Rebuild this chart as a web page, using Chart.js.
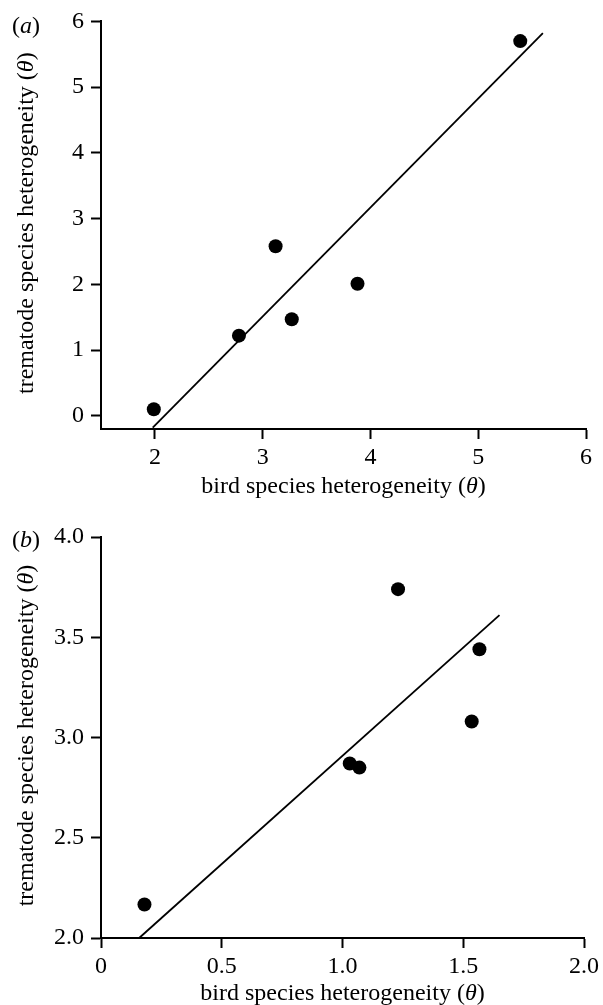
<!DOCTYPE html>
<html>
<head>
<meta charset="utf-8">
<script src="https://cdn.jsdelivr.net/npm/chart.js@4.4.1/dist/chart.umd.min.js"></script>
<style>
  body { margin: 0; background: #fff; }
  #wrap { position: relative; width: 603px; height: 1005px; }
  canvas { position: absolute; left: 0; }
  .panel-label { position: absolute; left: 12px; font: 24px "Liberation Serif", "Times New Roman", serif; line-height: 24px; color: #000; }
</style>
</head>
<body>
<div id="wrap">
  <canvas id="chartA" width="603" height="500" style="top:0;width:603px;height:500px"></canvas>
  <canvas id="chartB" width="603" height="505" style="top:500px;width:603px;height:505px"></canvas>
  <div class="panel-label" style="top:13px">(<i>a</i>)</div>
  <div class="panel-label" style="top:527px">(<i>b</i>)</div>
</div>
<script>
// panel (a)
var birdA = [1.99, 2.78, 3.12, 3.27, 3.88, 5.39];
var tremA = [0.10, 1.22, 2.58, 1.47, 2.01, 5.70];
var fitXA = [1.98, 5.60];
var fitYA = [-0.18, 5.82];
var xTicksA = [2, 3, 4, 5, 6];
var yTicksA = [0, 1, 2, 3, 4, 5, 6];

// panel (b)
var birdB = [0.18, 1.03, 1.07, 1.23, 1.535, 1.567];
var tremB = [2.167, 2.87, 2.85, 3.74, 3.08, 3.44];
var fitXB = [0.158, 1.65];
var fitYB = [2.0, 3.61];
var xTicksB = [0, 0.5, 1.0, 1.5, 2.0];
var xLabelsB = ['0', '0.5', '1.0', '1.5', '2.0'];
var yTicksB = [2.0, 2.5, 3.0, 3.5, 4.0];
var yLabelsB = ['2.0', '2.5', '3.0', '3.5', '4.0'];

// axis titles, split so the theta can be set in italics
var xTitle = ['bird species heterogeneity (', 'θ', ')'];
var yTitle = ['trematode species heterogeneity (', 'θ', ')'];

var FAMILY = '"Liberation Serif", "Times New Roman", serif';
Chart.defaults.font.family = FAMILY;
Chart.defaults.font.size = 24;
Chart.defaults.color = '#000';

function pairs(xs, ys) {
  var out = [];
  for (var i = 0; i < xs.length; i++) out.push({ x: xs[i], y: ys[i] });
  return out;
}

// draws "text (θ)" centred on 0,0 with its baseline at 0
function drawTitle(ctx, parts) {
  var fonts = ['24px ' + FAMILY, 'italic 24px ' + FAMILY, '24px ' + FAMILY];
  var widths = parts.map(function(p, i) { ctx.font = fonts[i]; return ctx.measureText(p).width; });
  var total = widths[0] + widths[1] + widths[2];
  var x = -total / 2;
  ctx.textBaseline = 'alphabetic';
  ctx.textAlign = 'left';
  ctx.fillStyle = '#000';
  for (var i = 0; i < parts.length; i++) {
    ctx.font = fonts[i];
    ctx.fillText(parts[i], x, 0);
    x += widths[i];
  }
}

var titlePlugin = {
  id: 'titles',
  afterDraw: function(chart, args, opts) {
    var ctx = chart.ctx;
    var area = chart.chartArea;
    ctx.save();
    ctx.translate((area.left + area.right) / 2, area.bottom + opts.xOffset);
    drawTitle(ctx, xTitle);
    ctx.restore();
    ctx.save();
    ctx.translate(33, (area.top + area.bottom) / 2 - 2);
    ctx.rotate(-Math.PI / 2);
    drawTitle(ctx, yTitle);
    ctx.restore();
  }
};

function axis(opts) {
  return {
    type: 'linear',
    min: opts.min,
    max: opts.max,
    afterBuildTicks: function(scale) {
      scale.ticks = opts.ticks.map(function(v) { return { value: v }; });
    },
    afterFit: function(scale) {
      if (opts.width) scale.width = opts.width;
      if (opts.height) scale.height = opts.height;
    },
    ticks: {
      padding: opts.pad,
      autoSkip: false,
      maxRotation: 0,
      callback: function(v) {
        var i = opts.ticks.indexOf(v);
        return opts.labels ? opts.labels[i] : String(v);
      }
    },
    grid: { drawOnChartArea: false, drawTicks: true, tickLength: 10, tickWidth: 2, color: '#000' },
    border: { display: true, color: '#000', width: 2 }
  };
}

function makeChart(id, cfg) {
  var ctx = document.getElementById(id).getContext('2d');
  return new Chart(ctx, {
    type: 'scatter',
    data: {
      datasets: [
        {
          data: pairs(cfg.bx, cfg.by),
          backgroundColor: '#000',
          borderWidth: 0,
          pointRadius: 7,
          showLine: false
        },
        {
          type: 'line',
          data: pairs(cfg.fx, cfg.fy),
          borderColor: '#000',
          borderWidth: 1.8,
          pointRadius: 0,
          fill: false,
          tension: 0
        }
      ]
    },
    options: {
      responsive: false,
      animation: false,
      clip: false,
      layout: { padding: { top: cfg.top, right: 17, bottom: 0, left: 0 } },
      plugins: {
        legend: { display: false },
        tooltip: { enabled: false },
        titles: { xOffset: cfg.titleOffset }
      },
      scales: {
        x: axis({ min: cfg.xmin, max: cfg.xmax, ticks: cfg.xt, labels: cfg.xl, height: cfg.xh, pad: 4 }),
        y: axis({ min: cfg.ymin, max: cfg.ymax, ticks: cfg.yt, labels: cfg.yl, width: 101, pad: 7 })
      }
    },
    plugins: [titlePlugin]
  });
}

makeChart('chartA', {
  bx: birdA, by: tremA, fx: fitXA, fy: fitYA,
  xmin: 1.5, xmax: 6, ymin: -0.2, ymax: 6,
  xt: xTicksA, yt: yTicksA, top: 20, xh: 71, titleOffset: 64
});

makeChart('chartB', {
  bx: birdB, by: tremB, fx: fitXB, fy: fitYB,
  xmin: 0, xmax: 2, ymin: 2, ymax: 4,
  xt: xTicksB, xl: xLabelsB, yt: yTicksB, yl: yLabelsB, top: 37, xh: 67, titleOffset: 62
});
</script>
</body>
</html>
